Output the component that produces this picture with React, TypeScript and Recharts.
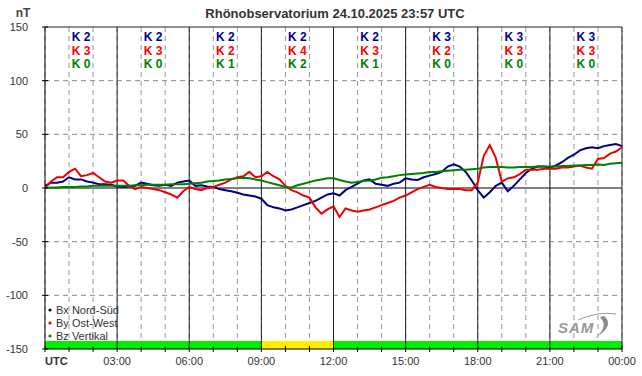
import { LineChart, Line, XAxis, YAxis, CartesianGrid, ReferenceLine, ReferenceArea, ReferenceDot } from 'recharts';

// 15-minute samples, 00:00 .. 24:00 UTC (nT)
const bx = [
  2, 5, 5, 6, 10, 8, 8, 6, 5, 3.5, 3.5, 3,
  1.5, 1, 1.5, 2, 5, 4, 2.5, 2, 3, 2, 5, 6,
  7, 2, 2.5, 1.5, 1, -1, -2, -3, -4.5, -6, -7, -8,
  -10, -16, -18, -19, -21, -20, -18, -16, -14, -12, -9, -6,
  -5, -7, -2, 1, 4, 7, 8, 4, 3, 2, 4, 5,
  9, 8, 7.5, 10, 11.5, 13, 15, 20, 22, 20, 15, 7,
  -2, -9, -4, 2, 5, -3, 2, 8, 14, 18, 20, 20,
  19, 21, 24, 28, 31, 35, 37, 38, 37, 39, 40, 41,
  39,
];
const by = [
  0, 6, 10, 10, 15, 18, 11, 12, 14, 10, 6, 5,
  7, 7, 2, -1, 1, 0, -1, -2, -4, -6, -9, -3,
  1, -1, -2, 0, 1, 3, 5, 8, 10, 11, 15, 10,
  11, 15, 11, 8, 2, -2, -4, -7, -9, -18, -24, -20,
  -17, -27, -19, -21, -22, -21, -20, -18, -16, -14, -12, -9,
  -7, -4, -1, 1, 3, 1, 0, -1, -1, -1, -2, -2,
  5, 30, 40, 28, 6, 9, 10, 13, 17, 17, 17, 18,
  18, 18, 19, 19, 20, 21, 19, 18, 27, 28, 32, 34,
  38,
];
const bz = [
  0, 0.5, 0.5, 1, 1, 1, 1.5, 1.5, 2, 2, 2, 2,
  2, 2, 2, 2.5, 2.5, 3, 3, 3, 3, 3.5, 3.5, 3.5,
  4, 4.5, 5, 6, 6.5, 7, 8, 8.5, 9, 9.5, 9, 8,
  7, 5.5, 4, 2.5, 1, 0.5, 2.5, 4, 5.5, 7, 8, 9,
  9, 7.5, 6, 5, 5.5, 6.5, 7, 8, 9.5, 10, 11, 12,
  12.5, 13, 13.5, 14, 15, 15, 15.5, 16, 16.5, 17, 17, 17.5,
  18, 19, 19.5, 19.5, 19.5, 19, 19, 19.5, 19.5, 19.5, 20, 20,
  20, 20, 20.5, 20.5, 21, 21, 21.5, 21.5, 22, 21.5, 22.5, 23,
  23.5,
];

// K indices per 3-hour block
const kx = [2, 2, 2, 2, 2, 3, 3, 3];
const ky = [3, 3, 2, 4, 3, 2, 3, 3];
const kz = [0, 0, 1, 2, 1, 0, 0, 0];

const hourLabels = ['UTC', '03:00', '06:00', '09:00', '12:00', '15:00', '18:00', '21:00', '00:00'];
const hourTicks = Array.from({ length: 25 }, (_, i) => i);
const yTicks = [-150, -100, -50, 0, 50, 100, 150];
const gridLevels = [-100, -50, 50, 100];
const solidHours = [3, 6, 9, 12, 15, 18, 21];

const statusBars = [
  { from: 0, to: 9, color: '#00ee00' },
  { from: 9, to: 12, color: '#ffee00' },
  { from: 12, to: 24, color: '#00ee00' },
];

const legendItems = [
  { label: 'Bx Nord-Süd', color: '#000080' },
  { label: 'By Ost-West', color: '#ee0000' },
  { label: 'Bz Vertikal', color: '#008000' },
];

const data = bx.map((v, i) => ({ t: i / 4, bx: v, by: by[i], bz: bz[i] }));

const FONT = '"Liberation Sans", Arial, sans-serif';

function XTick(props: any) {
  const { x, y, payload } = props;
  const v = payload.value;
  const label = v % 3 === 0 ? hourLabels[v / 3] : null;
  return (
    <g>
      <line x1={x} x2={x} y1={y - 3} y2={y + 3} stroke="#000" />
      {label && (
        <text
          x={x}
          y={y + 16}
          textAnchor={v === 0 ? 'start' : 'middle'}
          fontSize={11}
          fontWeight={v === 0 ? 'bold' : 'normal'}
          fill="#333"
          fontFamily={FONT}
        >
          {label}
        </text>
      )}
    </g>
  );
}

function YTick(props: any) {
  const { x, y, payload } = props;
  return (
    <g>
      <line x1={x - 3} x2={x + 3} y1={y} y2={y} stroke="#000" />
      <text x={x - 17} y={y + 4} textAnchor="end" fontSize={11} fill="#333" fontFamily={FONT}>
        {payload.value}
      </text>
    </g>
  );
}

function KLabel(i: number) {
  return (props: any) => {
    const { cx, cy } = props;
    return (
      <g fontFamily={FONT} fontSize={12} fontWeight="bold" textAnchor="middle">
        <text x={cx} y={cy + 14} fill="#000099">K {kx[i]}</text>
        <text x={cx} y={cy + 27.5} fill="#ff0000">K {ky[i]}</text>
        <text x={cx} y={cy + 41} fill="#008000">K {kz[i]}</text>
      </g>
    );
  };
}

export default function App() {
  return (
    <div style={{ position: 'absolute', left: 0, top: 0, width: 642, height: 376, background: '#fff', fontFamily: FONT }}>
      <LineChart width={642} height={376} data={data} margin={{ top: 27, right: 20, left: 0, bottom: 0 }}>
        <CartesianGrid stroke="#999" strokeDasharray="5 4" horizontal={false} />
        <XAxis
          dataKey="t"
          type="number"
          domain={[0, 24]}
          ticks={hourTicks}
          interval={0}
          height={27}
          tickSize={0}
          tickMargin={0}
          tick={<XTick />}
          axisLine={{ stroke: '#000' }}
        />
        <YAxis
          type="number"
          domain={[-150, 150]}
          ticks={yTicks}
          width={45}
          tickSize={0}
          tickMargin={0}
          tickLine={false}
          axisLine={{ stroke: '#000' }}
          tick={<YTick />}
        />
        {gridLevels.map((l) => (
          <ReferenceLine key={'g' + l} y={l} stroke="#888" strokeWidth={1} strokeDasharray="5 4" />
        ))}
        {solidHours.map((h) => (
          <ReferenceLine key={h} x={h} stroke="#222" />
        ))}
        <ReferenceLine y={0} stroke="#000" />
        <ReferenceLine y={150} stroke="#222" />
        <ReferenceLine x={24} stroke="#222" />
        {statusBars.map((b) => (
          <ReferenceArea key={b.from} x1={b.from} x2={b.to} y1={-150} y2={-142.5} fill={b.color} fillOpacity={1} stroke="none" />
        ))}
        <Line type="linear" dataKey="bx" stroke="#000080" strokeWidth={2} dot={false} activeDot={false} isAnimationActive={false} />
        <Line type="linear" dataKey="by" stroke="#ee0000" strokeWidth={2} dot={false} activeDot={false} isAnimationActive={false} />
        <Line type="linear" dataKey="bz" stroke="#008000" strokeWidth={2} dot={false} activeDot={false} isAnimationActive={false} />
        {kx.map((_, i) => (
          <ReferenceDot key={i} x={1.5 + 3 * i} y={150} r={0} shape={KLabel(i)} />
        ))}
      </LineChart>

      <svg width={642} height={376} style={{ position: 'absolute', left: 0, top: 0, pointerEvents: 'none' }}>
        <text x={335} y={18} textAnchor="middle" fontSize={13} fontWeight="bold" fill="#333" fontFamily={FONT}>
          Rhönobservatorium 24.10.2025 23:57 UTC
        </text>
        <text x={23} y={17} textAnchor="middle" fontSize={12} fontWeight="bold" fill="#444" fontFamily={FONT}>
          nT
        </text>
        {legendItems.map((it, i) => (
          <g key={it.label}>
            <circle cx={50} cy={310 + i * 13} r={1.6} fill={it.color} />
            <text x={56} y={314 + i * 13} fontSize={11} fill="#333" fontFamily={FONT}>
              {it.label}
            </text>
          </g>
        ))}
        <g>
          <text x={558} y={333} fontSize={15} fontStyle="italic" fontWeight="bold" fill="#999" fontFamily={FONT} letterSpacing={1}>
            SAM
          </text>
          <path d="M 578 320 Q 598 311 616 314" stroke="#999" strokeWidth={1} fill="none" />
          <path d="M 604 316 Q 616 326 593 339 Q 610 328 600 317 Z" fill="#8a8a8a" />
        </g>
      </svg>
    </div>
  );
}
